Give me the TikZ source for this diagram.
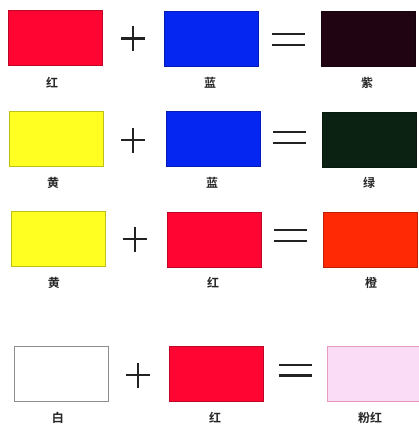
\documentclass[tikz,border=0pt]{standalone}
\usepackage{fontspec}
\newfontfamily\cjk{Noto Sans CJK SC Bold}
\definecolor{cred}{HTML}{FF0532}
\definecolor{cblue}{HTML}{0526F0}
\definecolor{cpurple}{HTML}{200412}
\definecolor{cgreen}{HTML}{0B2212}
\definecolor{cyellow}{HTML}{FFFF22}
\definecolor{corange}{HTML}{FF2A05}
\definecolor{cpink}{HTML}{FADCF6}
\definecolor{csym}{HTML}{222222}
\begin{document}
\begin{tikzpicture}[x=1pt,y=-1pt,
  swatch/.style={draw=#1!75!black, line width=0.6pt, fill=#1, minimum width=94pt, minimum height=55pt, inner sep=0pt, anchor=north west},
  lbl/.style={font=\cjk\fontsize{12}{14}\selectfont, text=black!85, inner sep=0pt},
  sym/.style={draw=csym, line width=2.5pt}]
\useasboundingbox (0,0) rectangle (419,424);
% row 1
\node[swatch=cred] (r1a) at (8,10) {};
\node[swatch=cblue] (r1b) at (164,11) {};
\node[swatch=cpurple] (r1c) at (321,11) {};
\draw[sym] (121,38.5) -- (145,38.5) (133,26) -- (133,51);
\draw[sym] (272,34) -- (305,34) (272,45) -- (305,45);
\node[lbl] (l1a) at (52,83) {红};
\node[lbl] (l1b) at (210,83) {蓝};
\node[lbl] (l1c) at (367,83) {紫};
% row 2
\node[swatch=cyellow] (r2a) at (9,111) {};
\node[swatch=cblue] (r2b) at (166,111) {};
\node[swatch=cgreen] (r2c) at (322,112) {};
\draw[sym] (121,140) -- (145,140) (133,127.5) -- (133,152.5);
\draw[sym] (273,132) -- (306,132) (273,143) -- (306,143);
\node[lbl] (l2a) at (53,183) {黄};
\node[lbl] (l2b) at (212,183) {蓝};
\node[lbl] (l2c) at (369,183) {绿};
% row 3
\node[swatch=cyellow] (r3a) at (11,211) {};
\node[swatch=cred] (r3b) at (167,212) {};
\node[swatch=corange] (r3c) at (323,212) {};
\draw[sym] (123,239) -- (147,239) (135,226.5) -- (135,251.5);
\draw[sym] (274,230) -- (307,230) (274,241) -- (307,241);
\node[lbl] (l3a) at (54,283) {黄};
\node[lbl] (l3b) at (213,283) {红};
\node[lbl] (l3c) at (371,283) {橙};
% row 4
\node[swatch=white, draw=black!45] (r4a) at (14,346) {};
\node[swatch=cred] (r4b) at (169,346) {};
\node[swatch=cpink, draw=cpink!70!purple] (r4c) at (327,346) {};
\draw[sym] (126,375) -- (150,375) (138,362.5) -- (138,387.5);
\draw[sym] (279,365) -- (312,365) (279,375.5) -- (312,375.5);
\node[lbl] (l4a) at (58,418) {白};
\node[lbl] (l4b) at (215,418) {红};
\node[lbl] (l4c) at (370,418) {粉红};
\end{tikzpicture}
\end{document}
